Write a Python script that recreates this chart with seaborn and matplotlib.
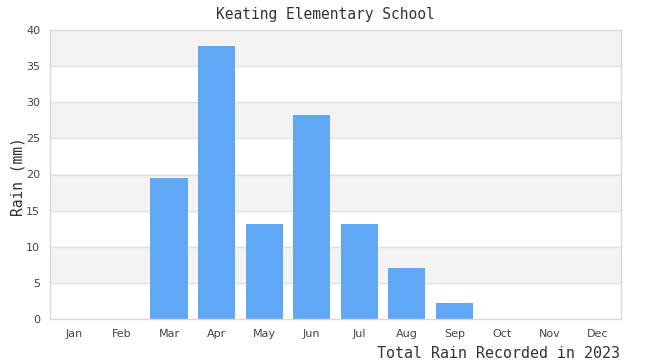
import matplotlib
matplotlib.use("Agg")
import matplotlib.pyplot as plt
import seaborn as sns
import pandas as pd

months = ["Jan", "Feb", "Mar", "Apr", "May", "Jun", "Jul", "Aug", "Sep", "Oct", "Nov", "Dec"]
rain_mm = [0, 0, 19.5, 37.8, 13.1, 28.2, 13.1, 7.1, 2.2, 0, 0, 0]
y_ticks = [0, 5, 10, 15, 20, 25, 30, 35, 40]

title = "Keating Elementary School"
y_label = "Rain (mm)"
x_caption = "Total Rain Recorded in 2023"

df = pd.DataFrame({"month": months, "rain": rain_mm})

sns.set_theme(style="white")
plt.rcParams["font.family"] = ["DejaVu Sans"]

fig = plt.figure(figsize=(6.5, 3.6), dpi=100)
W, H = 650, 360
left, right, top, bottom = 50, 621, 30, 319
ax = fig.add_axes([left / W, 1 - bottom / H, (right - left) / W, (bottom - top) / H])

# alternating bands
for i in range(len(y_ticks) - 1):
    if (len(y_ticks) - 2 - i) % 2 == 0:
        ax.axhspan(y_ticks[i], y_ticks[i + 1], color="#f3f3f3", zorder=0, lw=0)
for t in y_ticks[1:-1]:
    ax.axhline(t, color="#e0e0e0", lw=1, zorder=0.5)

sns.barplot(data=df, x="month", y="rain", order=months, color="#60a8f5",
            saturation=1, width=0.78, ax=ax, zorder=2, linewidth=0)

ax.set_ylim(0, 40)
ax.set_xlim(-0.5, 11.5)
ax.set_yticks(y_ticks)
ax.set_xlabel("")
ax.set_ylabel("")
ax.tick_params(axis="both", length=0, labelsize=8, labelcolor="#444444")
ax.tick_params(axis="y", pad=7)
ax.tick_params(axis="x", pad=7)
for s in ax.spines.values():
    s.set_color("#d8d8d8")
    s.set_linewidth(1)

fig.text(0.5, 1 - 14 / H, title, ha="center", va="center",
         family="DejaVu Sans Mono", fontsize=10.5, color="#333333")
fig.text(18 / W, 1 - 177 / H, y_label, ha="center", va="center", rotation=90,
         family="DejaVu Sans Mono", fontsize=10.5, color="#333333")
fig.text(620 / W, 1.5 / H, x_caption, ha="right", va="baseline",
         family="DejaVu Sans Mono", fontsize=10.8, color="#333333")

fig.savefig("out.png", dpi=100)
